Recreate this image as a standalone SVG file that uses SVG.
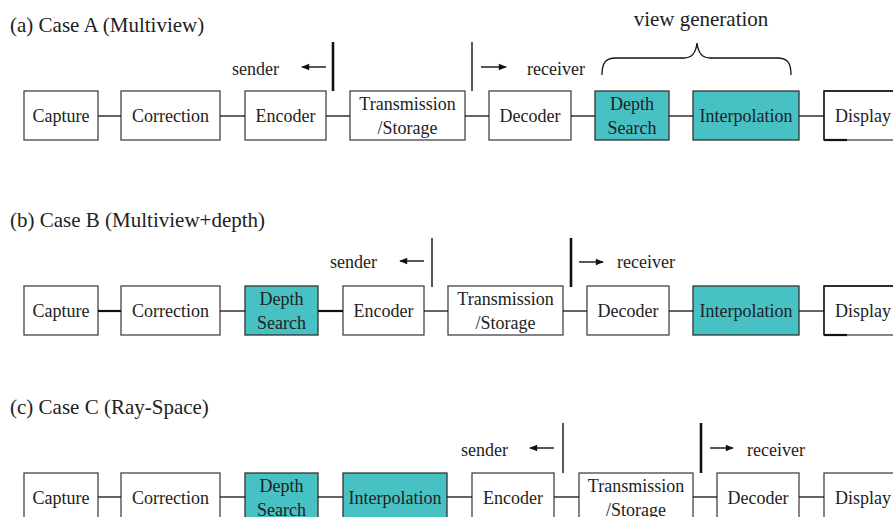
<svg xmlns="http://www.w3.org/2000/svg" width="893" height="517" viewBox="0 0 893 517">
<defs>
<style>
text{font-family:"Liberation Serif","Times New Roman",serif;fill:#222;}
.t{font-size:21px;}
.l{font-size:18px;text-anchor:middle;}
.s{font-size:18px;}
.box{fill:#fff;stroke:#444;stroke-width:1.3;}
.hl{fill:#47C1C4;stroke:#333;stroke-width:1.3;}
.c{stroke:#111;stroke-width:1.3;fill:none;}
.ck{stroke:#111;stroke-width:2.2;fill:none;}
.bar{stroke:#111;stroke-width:1.4;}
.bark{stroke:#111;stroke-width:2.6;}
.ar{stroke:#111;stroke-width:1.4;marker-end:url(#ah);}
</style>
<marker id="ah" viewBox="0 0 10 10" refX="9" refY="5" markerWidth="9" markerHeight="8" markerUnits="userSpaceOnUse" orient="auto">
<path d="M0,1 L10,5 L0,9 Z" fill="#111"/>
</marker>
</defs>
<rect width="893" height="517" fill="#fff"/>

<!-- Titles -->
<text class="t" x="10" y="32">(a) Case A (Multiview)</text>
<text class="t" x="10" y="227">(b) Case B (Multiview+depth)</text>
<text class="t" x="10" y="414">(c) Case C (Ray-Space)</text>

<!-- Row A -->
<g id="a-capture"><rect class="box" x="24" y="91" width="74" height="49"/><text class="l" x="61" y="122">Capture</text></g>
<g id="a-correction"><rect class="box" x="121" y="91" width="99" height="49"/><text class="l" x="170.5" y="122">Correction</text></g>
<g id="a-encoder"><rect class="box" x="245" y="91" width="81" height="49"/><text class="l" x="285.5" y="122">Encoder</text></g>
<g id="a-transmission"><rect class="box" x="350" y="91" width="115" height="49"/><text class="l" x="407.5" y="110">Transmission</text><text class="l" x="407.5" y="134">/Storage</text></g>
<g id="a-decoder"><rect class="box" x="489" y="91" width="82" height="49"/><text class="l" x="530" y="122">Decoder</text></g>
<g id="a-depth"><rect class="hl" x="595" y="91" width="74" height="49"/><text class="l" x="632" y="110">Depth</text><text class="l" x="632" y="134">Search</text></g>
<g id="a-interp"><rect class="hl" x="693" y="91" width="106" height="49"/><text class="l" x="746" y="122">Interpolation</text></g>
<g id="a-display"><rect class="box" x="824" y="91" width="80" height="49" stroke="#999"/><path d="M824,140 V91 H900" class="c"/><path d="M824,140 H847" class="ck"/><text class="s" x="835" y="122">Display</text></g>

<g id="a-annotations">
<text class="s" x="232" y="75">sender</text>
<line class="ar" x1="326" y1="67" x2="302" y2="67"/>
<line class="bark" x1="333" y1="42" x2="333" y2="91"/>
<line class="bar" x1="472" y1="42" x2="472" y2="91"/>
<line class="ar" x1="481" y1="67" x2="506" y2="67"/>
<text class="s" x="527" y="75">receiver</text>
<path class="c" d="M602,75 C602,62 606,58 616,58 H684 C692,58 696,52 697,43 C698,52 702,58 710,58 H777 C787,58 791,62 791,75"/>
<text class="t" x="701" y="26" text-anchor="middle">view generation</text>
</g>

<!-- Row B -->
<g id="b-capture"><rect class="box" x="24" y="286" width="74" height="49"/><text class="l" x="61" y="317">Capture</text></g>
<g id="b-correction"><rect class="box" x="121" y="286" width="99" height="49"/><text class="l" x="170.5" y="317">Correction</text></g>
<g id="b-depth"><rect class="hl" x="245" y="286" width="73" height="49"/><text class="l" x="281.5" y="305">Depth</text><text class="l" x="281.5" y="329">Search</text></g>
<g id="b-encoder"><rect class="box" x="343" y="286" width="81" height="49"/><text class="l" x="383.5" y="317">Encoder</text></g>
<g id="b-transmission"><rect class="box" x="448" y="286" width="115" height="49"/><text class="l" x="505.5" y="305">Transmission</text><text class="l" x="505.5" y="329">/Storage</text></g>
<g id="b-decoder"><rect class="box" x="587" y="286" width="82" height="49"/><text class="l" x="628" y="317">Decoder</text></g>
<g id="b-interp"><rect class="hl" x="693" y="286" width="106" height="49"/><text class="l" x="746" y="317">Interpolation</text></g>
<g id="b-display"><rect class="box" x="824" y="286" width="80" height="49" stroke="#999"/><path d="M824,335 V286 H900" class="c"/><path d="M824,335 H847" class="ck"/><text class="s" x="835" y="317">Display</text></g>

<g id="b-annotations">
<text class="s" x="330" y="268">sender</text>
<line class="ar" x1="424" y1="261" x2="400" y2="261"/>
<line class="bar" x1="432" y1="238" x2="432" y2="287"/>
<line class="bark" x1="571" y1="238" x2="571" y2="287"/>
<line class="ar" x1="579" y1="262" x2="603" y2="262"/>
<text class="s" x="617" y="268">receiver</text>
</g>

<!-- Row C -->
<g id="c-capture"><rect class="box" x="24" y="473" width="74" height="49"/><text class="l" x="61" y="504">Capture</text></g>
<g id="c-correction"><rect class="box" x="121" y="473" width="99" height="49"/><text class="l" x="170.5" y="504">Correction</text></g>
<g id="c-depth"><rect class="hl" x="245" y="473" width="73" height="49"/><text class="l" x="281.5" y="492">Depth</text><text class="l" x="281.5" y="516">Search</text></g>
<g id="c-interp"><rect class="hl" x="343" y="473" width="104" height="49"/><text class="l" x="395" y="504">Interpolation</text></g>
<g id="c-encoder"><rect class="box" x="472" y="473" width="82" height="49"/><text class="l" x="513" y="504">Encoder</text></g>
<g id="c-transmission"><rect class="box" x="579" y="473" width="114" height="49"/><text class="l" x="636" y="492">Transmission</text><text class="l" x="636" y="516">/Storage</text></g>
<g id="c-decoder"><rect class="box" x="717" y="473" width="82" height="49"/><text class="l" x="758" y="504">Decoder</text></g>
<g id="c-display"><rect class="box" x="824" y="473" width="80" height="49"/><text class="s" x="835" y="504">Display</text></g>

<g id="c-annotations">
<text class="s" x="461" y="456">sender</text>
<line class="ar" x1="554" y1="448" x2="530" y2="448"/>
<line class="bar" x1="563" y1="423" x2="563" y2="473"/>
<line class="bark" x1="701" y1="423" x2="701" y2="473"/>
<line class="ar" x1="710" y1="448" x2="733" y2="448"/>
<text class="s" x="747" y="456">receiver</text>
</g>

<!-- Connectors -->
<g id="connectors">
<line class="c" x1="98" y1="116" x2="121" y2="116"/>
<line class="c" x1="220" y1="116" x2="245" y2="116"/>
<line class="c" x1="326" y1="116" x2="350" y2="116"/>
<line class="c" x1="465" y1="116" x2="489" y2="116"/>
<line class="c" x1="571" y1="116" x2="595" y2="116"/>
<line class="c" x1="669" y1="116" x2="693" y2="116"/>
<line class="c" x1="799" y1="116" x2="824" y2="116"/>

<line class="ck" x1="98" y1="311" x2="121" y2="311"/>
<line class="c" x1="220" y1="311" x2="245" y2="311"/>
<line class="ck" x1="318" y1="311" x2="343" y2="311"/>
<line class="c" x1="424" y1="311" x2="448" y2="311"/>
<line class="c" x1="563" y1="311" x2="587" y2="311"/>
<line class="c" x1="669" y1="311" x2="693" y2="311"/>
<line class="c" x1="799" y1="311" x2="824" y2="311"/>

<line class="c" x1="98" y1="497" x2="121" y2="497"/>
<line class="c" x1="220" y1="497" x2="245" y2="497"/>
<line class="c" x1="318" y1="497" x2="343" y2="497"/>
<line class="c" x1="447" y1="497" x2="472" y2="497"/>
<line class="c" x1="554" y1="497" x2="579" y2="497"/>
<line class="c" x1="693" y1="497" x2="717" y2="497"/>
<line class="c" x1="799" y1="497" x2="824" y2="497"/>
</g>
</svg>
